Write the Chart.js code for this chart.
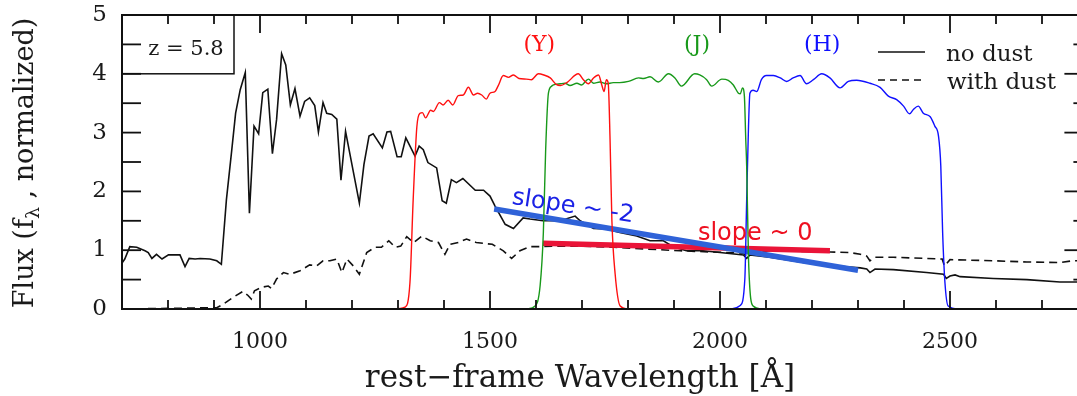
<!DOCTYPE html>
<html><head><meta charset="utf-8">
<script src="https://cdn.jsdelivr.net/npm/chart.js@4.4.1/dist/chart.umd.min.js"></script>
<style>
html,body{margin:0;padding:0;background:#fff;overflow:hidden;width:1077px;height:396px}
#wrap{position:absolute;left:0;top:0;width:1100px;height:396px}
canvas{display:block}
</style></head>
<body><div id="wrap"><canvas id="c" width="1100" height="396"></canvas></div>
<script>
// ---- data (rest-frame wavelength in Å, normalized flux) ----
const noDustWave = [700,706,717,732,750,757,765,775,787,801,826,837,846,859,870,891,906,916,927,938,947,957,968,977,987,997,1006,1017,1027,1036,1047,1056,1066,1076,1087,1097,1108,1119,1127,1137,1145,1156,1167,1176,1186,1216,1226,1237,1246,1266,1276,1284,1298,1307,1317,1337,1346,1355,1365,1384,1396,1405,1416,1427,1441,1468,1486,1500,1511,1533,1551,1572,1587,1615,1653,1685,1696,1725,1753,1782,1819,1848,1877,1898,1927,1963,2000,2051,2058,2065,2108,2181,2253,2305,2319,2326,2337,2377,2449,2486,2492,2500,2511,2522,2594,2667,2739,2790];
const noDustFlux = [0.78,0.85,1.06,1.05,0.99,0.96,0.86,0.93,0.85,0.92,0.92,0.72,0.86,0.85,0.86,0.85,0.82,0.76,1.86,2.66,3.33,3.73,4.02,1.63,3.11,2.98,3.68,3.74,2.64,3.22,4.34,4.15,3.47,3.75,3.28,3.53,3.59,3.46,3.01,3.51,3.33,3.31,3.23,2.19,3.02,1.80,2.46,2.94,2.98,2.74,3.01,3.02,2.59,2.59,2.91,2.60,2.77,2.71,2.49,2.40,1.84,1.80,2.20,2.15,2.22,2.02,2.02,1.92,1.75,1.44,1.37,1.55,1.53,1.50,1.50,1.58,1.50,1.37,1.36,1.30,1.24,1.16,1.16,1.06,0.99,0.99,0.96,0.92,0.86,0.92,0.88,0.79,0.73,0.70,0.68,0.62,0.68,0.67,0.62,0.59,0.52,0.56,0.58,0.55,0.52,0.50,0.46,0.46];

const withDustWave = [700,800,880,906,920,942,963,974,981,988,1004,1018,1025,1036,1051,1065,1087,1108,1123,1137,1152,1167,1178,1189,1203,1216,1232,1250,1264,1280,1294,1306,1319,1334,1352,1370,1388,1402,1413,1431,1449,1470,1505,1529,1547,1565,1587,1612,1637,1696,1769,1841,1913,2051,2058,2065,2108,2239,2282,2305,2319,2326,2337,2377,2483,2488,2500,2594,2667,2739,2767,2790];
const withDustFlux = [0,0.01,0.02,0.02,0.08,0.20,0.30,0.23,0.17,0.31,0.37,0.39,0.35,0.51,0.62,0.59,0.65,0.75,0.73,0.82,0.82,0.85,0.62,0.85,0.73,0.59,0.96,1.05,1.05,1.16,1.05,1.07,1.23,1.13,1.24,1.16,1.13,0.93,1.10,1.13,1.19,1.13,1.10,0.99,0.86,0.99,1.06,1.06,1.07,1.07,1.05,1.02,0.99,0.95,0.90,0.96,0.99,0.97,0.96,0.93,0.90,0.82,0.88,0.88,0.85,0.73,0.84,0.82,0.80,0.79,0.82,0.82];

const yBandWave = [1290,1315,1326,1333,1341,1348,1353,1360,1371,1377,1390,1398,1409,1419,1431,1442,1453,1464,1473,1482,1492,1500,1511,1518,1529,1540,1551,1563,1579,1590,1605,1617,1631,1644,1653,1667,1692,1703,1714,1725,1736,1743,1748,1753,1757,1761,1765,1772,1783,1800];
const yBandTrans = [0,0.03,0.45,1.86,3.10,3.33,3.34,3.25,3.38,3.36,3.51,3.47,3.55,3.47,3.63,3.64,3.77,3.64,3.67,3.64,3.57,3.67,3.70,3.80,3.97,3.94,3.98,3.92,3.91,3.90,4.00,3.98,3.93,3.82,3.80,3.85,4.00,3.90,3.83,3.93,3.98,3.81,3.70,3.90,3.84,2.88,1.5,0.6,0.05,0];

const jBandWave = [1580,1598,1609,1616,1621,1627,1634,1638,1653,1663,1674,1689,1699,1714,1725,1739,1753,1768,1782,1801,1823,1834,1848,1866,1888,1902,1916,1945,1956,1971,1982,2004,2018,2029,2040,2044,2049,2053,2056,2058,2062,2072,2090];
const jBandTrans = [0,0.05,0.40,1.30,2.71,3.67,3.79,3.81,3.83,3.84,3.80,3.84,3.81,3.91,3.84,3.86,3.83,3.85,3.85,3.87,3.93,3.92,3.95,3.86,4.00,3.93,3.79,4.00,3.98,3.90,3.79,3.91,3.89,3.81,3.67,3.66,3.76,3.62,2.88,2.43,0.85,0.05,0];

const hBandWave = [2025,2044,2054,2058,2062,2065,2072,2080,2090,2101,2116,2131,2145,2159,2174,2188,2203,2221,2239,2261,2279,2297,2326,2348,2366,2384,2399,2412,2420,2431,2442,2457,2467,2475,2480,2484,2489,2496,2520];
const hBandTrans = [0,0.06,0.51,1.86,3.11,3.67,3.72,3.70,3.90,3.97,3.97,3.93,3.87,3.93,3.97,3.83,3.90,4.00,3.93,3.76,3.87,3.89,3.84,3.77,3.62,3.56,3.45,3.32,3.39,3.45,3.33,3.27,3.11,2.94,2.43,1.30,0.45,0.05,0];

const slopeSteepWave = [1509,2300];
const slopeSteepFlux = [1.70,0.66];
const slopeFlatWave = [1615,2239];
const slopeFlatFlux = [1.12,0.99];

const bandNames = ['(Y)','(J)','(H)'];
const bandLabelWave = [1607,1950,2222];
const bandLabelFlux = 4.38;
const slopeTexts = ['slope ~ -2','slope ~ 0'];
const slopeTextWave = [1546,1952];
const slopeTextFlux = [1.79,1.17];
const seriesNames = ['no dust','with dust'];
const redshiftText = 'z = 5.8';

const xMin = 700, xMax = 2790, yMin = 0, yMax = 5;
const xTickStep = 100, xLabelStep = 500, yTickStep = 0.5;

// ---- build ----
const pts = (w,f) => w.map((v,i)=>({x:v,y:f[i]}));
const SERIF = '"DejaVu Serif"';
const SANS = '"DejaVu Sans"';
const bandColors = ['#ff1010','#18991a','#1010ff'];
const xTickValues = []; for (let v = xMin; v <= xMax; v += xTickStep) xTickValues.push(v);
const yTickValues = []; for (let i = 0; i <= Math.round((yMax-yMin)/yTickStep); i++) yTickValues.push(yMin + i*yTickStep);

function seg(ctx,x1,y1,x2,y2){ctx.beginPath();ctx.moveTo(x1,y1);ctx.lineTo(x2,y2);ctx.stroke();}

function drawTicks(chart){
  const ctx = chart.ctx, a = chart.chartArea;
  const xs = chart.scales.x, ys = chart.scales.y;
  ctx.save();
  ctx.globalAlpha = 1;
  ctx.globalCompositeOperation = 'source-over';
  ctx.fillStyle = '#111';
  const w = 1.8;
  for (const v of xTickValues) {
    const px = xs.getPixelForValue(v);
    const L = (v % xLabelStep === 0) ? 18 : 9;
    ctx.fillRect(px - w/2, a.bottom - L, w, L);
    ctx.fillRect(px - w/2, a.top, w, L);
  }
  for (const v of yTickValues) {
    const py = ys.getPixelForValue(v);
    const L = Number.isInteger(v) ? 19 : 10;
    ctx.fillRect(a.left, py - w/2, 19, w);
    ctx.fillRect(a.right - L, py - w/2, L, w);
  }
  ctx.restore();
}

const deco = {
  id:'deco',
  afterDraw(chart){
    const {ctx, chartArea:a} = chart;
    const x = chart.scales.x, y = chart.scales.y;
    drawTicks(chart);
    ctx.save();
    ctx.setLineDash([]);
    // frame
    ctx.lineWidth=2; ctx.strokeStyle='#111';
    ctx.strokeRect(a.left,a.top,a.right-a.left,a.bottom-a.top);
    // redshift box
    ctx.lineWidth=1.5;
    const boxBottom = y.getPixelForValue(4);
    ctx.strokeRect(a.left,a.top,112,boxBottom-a.top);
    ctx.fillStyle='#1a1a1a'; ctx.font='21px '+SERIF; ctx.textAlign='center'; ctx.textBaseline='alphabetic';
    ctx.fillText(redshiftText, a.left+64, 55);
    // band labels
    ctx.font='22px '+SERIF;
    bandNames.forEach((n,i)=>{
      ctx.fillStyle=bandColors[i];
      ctx.fillText(n, x.getPixelForValue(bandLabelWave[i]), y.getPixelForValue(bandLabelFlux));
    });
    // slope texts
    ctx.font='24px '+SANS; ctx.textAlign='left';
    const sx1=x.getPixelForValue(slopeSteepWave[0]), sy1=y.getPixelForValue(slopeSteepFlux[0]);
    const sx2=x.getPixelForValue(slopeSteepWave[1]), sy2=y.getPixelForValue(slopeSteepFlux[1]);
    const ang=Math.atan2(sy2-sy1,sx2-sx1)-0.015;
    ctx.save();
    ctx.translate(x.getPixelForValue(slopeTextWave[0]), y.getPixelForValue(slopeTextFlux[0]));
    ctx.rotate(ang);
    ctx.fillStyle='#1b22e6'; ctx.fillText(slopeTexts[0],0,0);
    ctx.restore();
    ctx.fillStyle='#ee1020';
    ctx.fillText(slopeTexts[1], x.getPixelForValue(slopeTextWave[1]), y.getPixelForValue(slopeTextFlux[1]));
    // legend
    ctx.strokeStyle='#111'; ctx.lineWidth=1.6;
    seg(ctx,878,52,925,52);
    ctx.setLineDash([7,5]); seg(ctx,878,80,925,80); ctx.setLineDash([]);
    ctx.fillStyle='#1a1a1a'; ctx.font='23px '+SERIF; ctx.textAlign='left';
    ctx.fillText(seriesNames[0],946,61);
    ctx.fillText(seriesNames[1],947,89);
    // axis titles
    ctx.font='31px '+SERIF; ctx.textAlign='center';
    ctx.fillText('rest\u2212frame Wavelength [\u00c5]', 580, 387);
    ctx.save();
    ctx.translate(33,163); ctx.rotate(-Math.PI/2);
    const big='27px '+SERIF, small='19px '+SERIF;
    const p1='Flux (f', p2='\u03bb', p3=' , normalized)';
    ctx.font=big; const w1=ctx.measureText(p1).width, w3=ctx.measureText(p3).width;
    ctx.font=small; const w2=ctx.measureText(p2).width;
    let sx=-(w1+w2+w3)/2;
    ctx.textAlign='left';
    ctx.font=big; ctx.fillText(p1,sx,0); sx+=w1;
    ctx.font=small; ctx.fillText(p2,sx,6); sx+=w2;
    ctx.font=big; ctx.fillText(p3,sx,0);
    ctx.restore();
    ctx.restore();
  }
};

const base = {showLine:true, pointRadius:0, pointHoverRadius:0, fill:false};
new Chart(document.getElementById('c'), {
  type:'scatter',
  data:{datasets:[
    {...base, label:'Y', data:pts(yBandWave,yBandTrans), borderColor:bandColors[0], borderWidth:1.4, cubicInterpolationMode:'monotone', order:0},
    {...base, label:'J', data:pts(jBandWave,jBandTrans), borderColor:bandColors[1], borderWidth:1.4, cubicInterpolationMode:'monotone', order:0},
    {...base, label:'H', data:pts(hBandWave,hBandTrans), borderColor:bandColors[2], borderWidth:1.4, cubicInterpolationMode:'monotone', order:0},
    {...base, label:'slope -2', data:pts(slopeSteepWave,slopeSteepFlux), borderColor:'#2f62d8', borderWidth:5.5, order:1},
    {...base, label:'slope 0', data:pts(slopeFlatWave,slopeFlatFlux), borderColor:'#ea1438', borderWidth:5.5, order:1},
    {...base, label:seriesNames[0], data:pts(noDustWave,noDustFlux), borderColor:'#111', borderWidth:1.6, order:2},
    {...base, label:seriesNames[1], data:pts(withDustWave,withDustFlux), borderColor:'#111', borderWidth:1.6, borderDash:[8,5], order:2}
  ]},
  options:{
    responsive:false, animation:false, devicePixelRatio:1,
    layout:{padding:{left:0,top:15,right:16.6,bottom:0}},
    plugins:{legend:{display:false}, tooltip:{enabled:false}},
    scales:{
      x:{type:'linear', min:xMin, max:xMax,
         grid:{display:false, drawTicks:false}, border:{display:false},
         afterBuildTicks:s=>{ s.ticks = xTickValues.map(v=>({value:v})); },
         afterFit:s=>{ s.height=87; s.paddingLeft=0; s.paddingRight=0; },
         ticks:{autoSkip:false, maxRotation:0, minRotation:0, padding:20,
                color:'#1a1a1a', font:{family:'DejaVu Serif', size:22},
                callback:v=> (v % xLabelStep === 0) ? String(v) : ''}},
      y:{type:'linear', min:yMin, max:yMax,
         grid:{display:false, drawTicks:false}, border:{display:false},
         afterBuildTicks:s=>{ s.ticks = yTickValues.map(v=>({value:v})); },
         afterFit:s=>{ s.width=122; s.paddingTop=0; s.paddingBottom=0; },
         ticks:{autoSkip:false, padding:15,
                color:'#1a1a1a', font:{family:'DejaVu Serif', size:23},
                callback:v=> Number.isInteger(v) ? String(v) : ''}}
    }
  },
  plugins:[deco]
});
</script></body></html>
